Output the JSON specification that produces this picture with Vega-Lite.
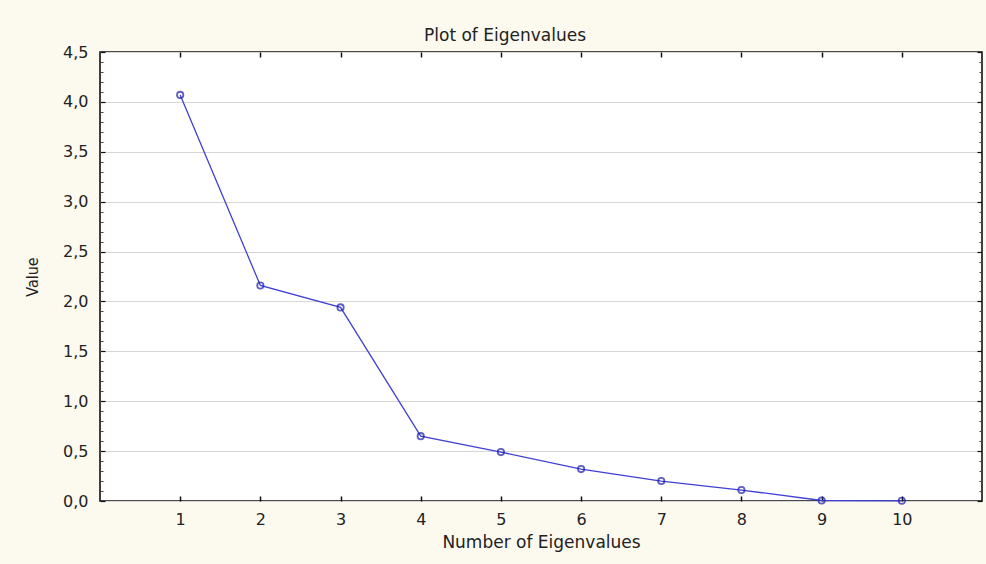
{
  "$schema": "https://vega.github.io/schema/vega-lite/v6.json",
  "width": 882,
  "height": 449,
  "autosize": "none",
  "padding": {"left": 100, "top": 52, "right": 4, "bottom": 63},
  "background": "#FCF9EF",
  "title": {"text": "Plot of Eigenvalues", "fontSize": 17, "font": "DejaVu Sans", "fontWeight": "normal", "color": "#222222", "anchor": "middle", "dx": -36, "offset": -1},
  "config": {
    "view": {"fill": "#FFFFFF", "stroke": "#111111", "strokeWidth": 1.6},
    "axis": {"labelFont": "DejaVu Sans", "titleFont": "DejaVu Sans", "labelColor": "#222222", "titleColor": "#222222", "titleFontWeight": "normal", "domain": false}
  },
  "data": {"values": [
    {"n": 1, "v": 4.07},
    {"n": 2, "v": 2.16},
    {"n": 3, "v": 1.94},
    {"n": 4, "v": 0.65},
    {"n": 5, "v": 0.49},
    {"n": 6, "v": 0.32},
    {"n": 7, "v": 0.2},
    {"n": 8, "v": 0.11},
    {"n": 9, "v": 0.005},
    {"n": 10, "v": 0.002}
  ]},
  "resolve": {"axis": {"x": "independent", "y": "independent"}},
  "layer": [
    {
      "mark": {"type": "line", "color": "#4040D4", "strokeWidth": 1.3},
      "encoding": {
        "x": {"field": "n", "type": "quantitative", "scale": {"domain": [0, 11], "nice": false, "zero": false},
          "axis": {"orient": "bottom", "values": [1,2,3,4,5,6,7,8,9,10], "ticks": false, "grid": false, "labelFontSize": 16, "labelPadding": 10, "title": "Number of Eigenvalues", "titleFontSize": 17, "titlePadding": 7}},
        "y": {"field": "v", "type": "quantitative", "scale": {"domain": [0, 4.5], "nice": false},
          "axis": {"orient": "left", "values": [0,0.5,1,1.5,2,2.5,3,3.5,4,4.5], "ticks": false, "grid": true, "gridColor": "#D6D6D6", "gridWidth": 1, "labelFontSize": 16, "labelPadding": 12, "labelExpr": "replace(format(datum.value, '.1f'), '.', ',')", "title": "Value", "titleFontSize": 16, "titleFont": "DejaVu Sans Condensed", "titlePadding": 22}}
      }
    },
    {
      "mark": {"type": "point", "shape": "circle", "filled": false, "color": "#1C1CA8", "size": 40, "strokeWidth": 1.8},
      "encoding": {
        "x": {"field": "n", "type": "quantitative",
          "axis": {"orient": "top", "values": [1,2,3,4,5,6,7,8,9,10], "ticks": true, "tickSize": -5, "tickColor": "#111111", "tickWidth": 1.5, "labels": false, "grid": false, "title": null}},
        "y": {"field": "v", "type": "quantitative",
          "axis": {"orient": "left", "values": [0,0.5,1,1.5,2,2.5,3,3.5,4,4.5], "ticks": true, "tickSize": -5, "tickColor": "#111111", "tickWidth": 1.2, "labels": false, "grid": false, "title": null}}
      }
    },
    {
      "mark": {"type": "line", "opacity": 0},
      "encoding": {
        "x": {"field": "n", "type": "quantitative",
          "axis": {"orient": "bottom", "values": [1,2,3,4,5,6,7,8,9,10], "ticks": true, "tickSize": -5, "tickColor": "#111111", "tickWidth": 1.5, "labels": false, "grid": false, "title": null}},
        "y": {"field": "v", "type": "quantitative",
          "axis": {"orient": "left", "values": [0.1,0.2,0.3,0.4,0.6,0.7,0.8,0.9,1.1,1.2,1.3,1.4,1.6,1.7,1.8,1.9,2.1,2.2,2.3,2.4,2.6,2.7,2.8,2.9,3.1,3.2,3.3,3.4,3.6,3.7,3.8,3.9,4.1,4.2,4.3,4.4], "ticks": true, "tickSize": -3, "tickColor": "#444444", "tickWidth": 1, "labels": false, "grid": false, "title": null}}
      }
    },
    {
      "mark": {"type": "line", "opacity": 0},
      "encoding": {
        "x": {"field": "n", "type": "quantitative", "axis": null},
        "y": {"field": "v", "type": "quantitative",
          "axis": {"orient": "right", "values": [0,0.5,1,1.5,2,2.5,3,3.5,4,4.5], "ticks": true, "tickSize": -5, "tickColor": "#111111", "tickWidth": 1.2, "labels": false, "grid": false, "title": null}}
      }
    },
    {
      "mark": {"type": "line", "opacity": 0},
      "encoding": {
        "x": {"field": "n", "type": "quantitative", "axis": null},
        "y": {"field": "v", "type": "quantitative",
          "axis": {"orient": "right", "values": [0.1,0.2,0.3,0.4,0.6,0.7,0.8,0.9,1.1,1.2,1.3,1.4,1.6,1.7,1.8,1.9,2.1,2.2,2.3,2.4,2.6,2.7,2.8,2.9,3.1,3.2,3.3,3.4,3.6,3.7,3.8,3.9,4.1,4.2,4.3,4.4], "ticks": true, "tickSize": -3, "tickColor": "#444444", "tickWidth": 1, "labels": false, "grid": false, "title": null}}
      }
    }
  ]
}
